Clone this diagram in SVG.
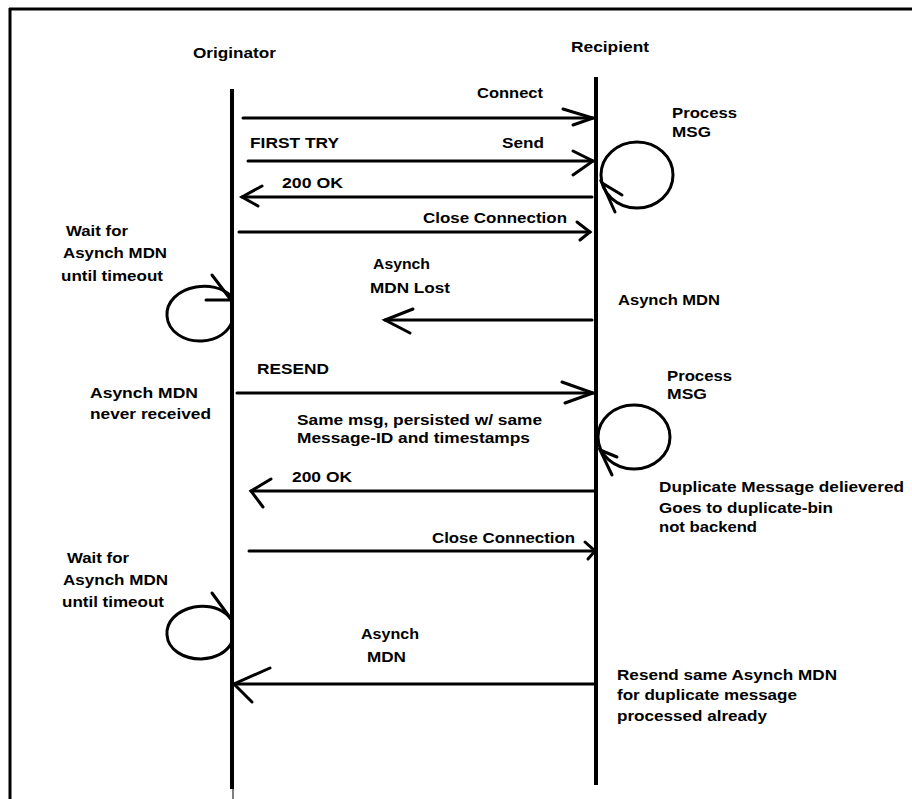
<svg xmlns="http://www.w3.org/2000/svg" width="912" height="799" viewBox="0 0 912 799">
<style>
text{font-family:"Liberation Sans",Arial,sans-serif;font-weight:bold;font-size:15px;fill:#000}
.ln{stroke:#000;stroke-width:3;fill:none;stroke-linecap:round}
.life{stroke:#000;stroke-width:4;fill:none}
.loop{stroke:#000;stroke-width:3;fill:none}
</style>
<rect width="912" height="799" fill="#fff"/>
<g id="frame">
<line x1="9" y1="9" x2="912" y2="9" stroke="#000" stroke-width="3"/>
<line x1="10" y1="8" x2="10" y2="799" stroke="#000" stroke-width="3"/>
</g>
<g id="originator">
<text x="193" y="58" textLength="83" lengthAdjust="spacingAndGlyphs">Originator</text>
<line class="life" x1="232" y1="89" x2="232" y2="789"/>
<line x1="233" y1="789" x2="233" y2="799" stroke="#000" stroke-width="1"/>
</g>
<g id="recipient">
<text x="571" y="52" textLength="78" lengthAdjust="spacingAndGlyphs">Recipient</text>
<line class="life" x1="596" y1="77" x2="596" y2="785"/>
</g>
<g id="connectors">
<line class="ln" x1="243" y1="118" x2="593" y2="118"/>
<polyline class="ln" points="563,109 593,118 573,125"/>
<line class="ln" x1="248" y1="161" x2="593" y2="161"/>
<polyline class="ln" points="573,151 593,161 573,175"/>
<line class="ln" x1="592" y1="197" x2="242" y2="197"/>
<polyline class="ln" points="262,186 242,197 258,206"/>
<line class="ln" x1="239" y1="232" x2="590" y2="232"/>
<polyline class="ln" points="577,222 590,232 580,240"/>
<line class="ln" x1="592" y1="320" x2="385" y2="320"/>
<polyline class="ln" points="413,309 385,320 410,333"/>
<line class="ln" x1="237" y1="393" x2="593" y2="393"/>
<polyline class="ln" points="562,382 593,393 565,403"/>
<line class="ln" x1="594" y1="491" x2="251" y2="491"/>
<polyline class="ln" points="271,479 251,491 263,507"/>
<line class="ln" x1="249" y1="551" x2="595" y2="551"/>
<polyline class="ln" points="585,542 595,551 588,559"/>
<line class="ln" x1="595" y1="684" x2="234" y2="684"/>
<polyline class="ln" points="270,668 234,684 252,702"/>
</g>
<g id="loop-recipient-1">
<ellipse class="loop" cx="637" cy="175" rx="36" ry="33"/>
<polyline class="ln" points="622,195 602,183 615,212"/>
<text x="672" y="118" textLength="65" lengthAdjust="spacingAndGlyphs">Process</text>
<text x="672" y="137" textLength="39" lengthAdjust="spacingAndGlyphs">MSG</text>
</g>
<g id="loop-originator-1">
<path class="loop" d="M231,296 C222,287 208,285 196,287 C178,290 166,302 167,316 C168,332 185,342 202,341 C218,340 228,332 232,322"/>
<line class="ln" x1="212" y1="275" x2="231" y2="300"/>
<line class="ln" x1="206" y1="300" x2="231" y2="300"/>
<text x="66" y="236" textLength="62" lengthAdjust="spacingAndGlyphs">Wait for</text>
<text x="63" y="258" textLength="104" lengthAdjust="spacingAndGlyphs">Asynch MDN</text>
<text x="61" y="281" textLength="102" lengthAdjust="spacingAndGlyphs">until timeout</text>
</g>
<g id="loop-recipient-2">
<ellipse class="loop" cx="634" cy="437" rx="36" ry="32"/>
<polyline class="ln" points="617,457 600,450 612,475"/>
<text x="667" y="381" textLength="65" lengthAdjust="spacingAndGlyphs">Process</text>
<text x="667" y="399" textLength="40" lengthAdjust="spacingAndGlyphs">MSG</text>
</g>
<g id="loop-originator-2">
<path class="loop" d="M231,619 C222,608 208,605 194,607 C176,611 166,622 167,635 C168,650 184,659 201,659 C217,658 227,652 232,642"/>
<line class="ln" x1="212" y1="593" x2="231" y2="619"/>
<text x="67" y="563" textLength="62" lengthAdjust="spacingAndGlyphs">Wait for</text>
<text x="63" y="585" textLength="105" lengthAdjust="spacingAndGlyphs">Asynch MDN</text>
<text x="62" y="607" textLength="102" lengthAdjust="spacingAndGlyphs">until timeout</text>
</g>
<g id="labels">
<text x="477" y="98" textLength="66" lengthAdjust="spacingAndGlyphs">Connect</text>
<text x="250" y="148" textLength="89" lengthAdjust="spacingAndGlyphs">FIRST TRY</text>
<text x="502" y="148" textLength="42" lengthAdjust="spacingAndGlyphs">Send</text>
<text x="282" y="188" textLength="61" lengthAdjust="spacingAndGlyphs">200 OK</text>
<text x="423" y="223" textLength="144" lengthAdjust="spacingAndGlyphs">Close Connection</text>
<text x="373" y="269" textLength="57" lengthAdjust="spacingAndGlyphs">Asynch</text>
<text x="370" y="293" textLength="80" lengthAdjust="spacingAndGlyphs">MDN Lost</text>
<text x="618" y="305" textLength="102" lengthAdjust="spacingAndGlyphs">Asynch MDN</text>
<text x="257" y="374" textLength="72" lengthAdjust="spacingAndGlyphs">RESEND</text>
<text x="90" y="398" textLength="108" lengthAdjust="spacingAndGlyphs">Asynch MDN</text>
<text x="90" y="419" textLength="121" lengthAdjust="spacingAndGlyphs">never received</text>
<text x="297" y="425" textLength="245" lengthAdjust="spacingAndGlyphs">Same msg, persisted w/ same</text>
<text x="297" y="443" textLength="233" lengthAdjust="spacingAndGlyphs">Message-ID and timestamps</text>
<text x="292" y="482" textLength="60" lengthAdjust="spacingAndGlyphs">200 OK</text>
<text x="659" y="492" textLength="245" lengthAdjust="spacingAndGlyphs">Duplicate Message delievered</text>
<text x="659" y="513" textLength="174" lengthAdjust="spacingAndGlyphs">Goes to duplicate-bin</text>
<text x="659" y="532" textLength="98" lengthAdjust="spacingAndGlyphs">not backend</text>
<text x="432" y="543" textLength="143" lengthAdjust="spacingAndGlyphs">Close Connection</text>
<text x="361" y="639" textLength="58" lengthAdjust="spacingAndGlyphs">Asynch</text>
<text x="367" y="662" textLength="39" lengthAdjust="spacingAndGlyphs">MDN</text>
<text x="617" y="680" textLength="220" lengthAdjust="spacingAndGlyphs">Resend same Asynch MDN</text>
<text x="617" y="700" textLength="180" lengthAdjust="spacingAndGlyphs">for duplicate message</text>
<text x="617" y="721" textLength="150" lengthAdjust="spacingAndGlyphs">processed already</text>
</g>
</svg>
